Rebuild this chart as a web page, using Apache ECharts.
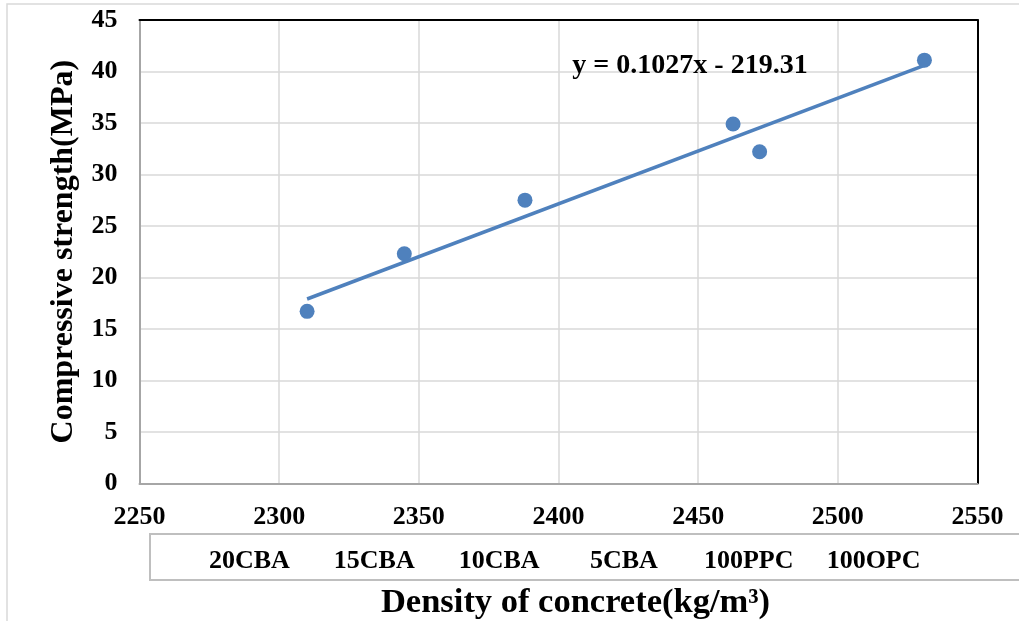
<!DOCTYPE html>
<html>
<head>
<meta charset="utf-8">
<script src="https://cdn.jsdelivr.net/npm/echarts@6/dist/echarts.min.js"></script>
<style>html,body{margin:0;padding:0;background:#fff;}#c{width:1019px;height:621px;}</style>
</head>
<body>
<div id="c"></div>
<script>
// Data
const mixNames = ['20CBA', '15CBA', '10CBA', '5CBA', '100PPC', '100OPC'];
const density = [2310, 2344.8, 2388, 2472, 2462.5, 2531];
const strength = [16.7, 22.3, 27.5, 32.2, 34.9, 41.1];
const trendX = [2310, 2531];
const trendY = [17.9, 40.6];
const equationText = 'y = 0.1027x - 219.31';
const xTitle = 'Density of concrete(kg/m³)';
const yTitle = 'Compressive strength(MPa)';

const FONT = '"Liberation Serif", "Times New Roman", serif';
const points = density.map((d, i) => [d, strength[i]]);
const trend = trendX.map((x, i) => [x, trendY[i]]);

const chart = echarts.init(document.getElementById('c'), null, {renderer: 'canvas'});
chart.setOption({
  animation: false,
  backgroundColor: '#ffffff',
  grid: [
    {left: 139.5, right: 41.5, top: 20, bottom: 137.7},
    {left: 187, right: 83, top: 534, height: 46}
  ],
  xAxis: [
    {
      type: 'value', gridIndex: 0, min: 2250, max: 2550, interval: 50,
      axisLine: {show: true, onZero: false, lineStyle: {color: '#a6a6a6', width: 2}},
      axisTick: {show: false},
      axisLabel: {margin: 21, fontFamily: FONT, fontWeight: 'bold', fontSize: 26, color: '#000', formatter: v => String(v)},
      splitLine: {show: true, lineStyle: {color: '#d9d9d9', width: 1.5}}
    },
    {
      type: 'value', gridIndex: 0, position: 'top', min: 2250, max: 2550,
      axisLine: {show: true, onZero: false, lineStyle: {color: '#000', width: 2}},
      axisTick: {show: false}, axisLabel: {show: false}, splitLine: {show: false}
    },
    {
      type: 'category', gridIndex: 1, data: mixNames, boundaryGap: true,
      axisLine: {show: false}, axisTick: {show: false},
      axisLabel: {inside: true, margin: 19, verticalAlign: 'middle', fontFamily: FONT, fontWeight: 'bold', fontSize: 26, color: '#000'},
      splitLine: {show: false}
    }
  ],
  yAxis: [
    {
      type: 'value', gridIndex: 0, min: 0, max: 45, interval: 5,
      name: yTitle, nameLocation: 'middle', nameGap: 60, nameRotate: 90,
      nameTextStyle: {fontFamily: FONT, fontWeight: 'bold', fontSize: 32, color: '#000'},
      axisLine: {show: true, onZero: false, lineStyle: {color: '#a6a6a6', width: 2}},
      axisTick: {show: false},
      axisLabel: {margin: 22, fontFamily: FONT, fontWeight: 'bold', fontSize: 26, color: '#000'},
      splitLine: {show: true, lineStyle: {color: '#d9d9d9', width: 1.5}}
    },
    {
      type: 'value', gridIndex: 0, position: 'right', min: 0, max: 45,
      axisLine: {show: true, onZero: false, lineStyle: {color: '#000', width: 2}},
      axisTick: {show: false}, axisLabel: {show: false}, splitLine: {show: false}
    },
    {
      type: 'value', gridIndex: 1, show: false
    }
  ],
  graphic: [
    {type: 'rect', z: -1, shape: {x: 7, y: 4, width: 1040, height: 640}, style: {fill: 'none', stroke: '#d9d9d9', lineWidth: 1.5}},
    {type: 'rect', z: -1, shape: {x: 150, y: 534, width: 900, height: 46}, style: {fill: 'none', stroke: '#bfbfbf', lineWidth: 2}},
    {type: 'text', x: 575.5, y: 603, style: {text: xTitle, textAlign: 'center', textVerticalAlign: 'middle', font: 'bold 34.5px ' + FONT, fill: '#000'}},
    {type: 'text', x: 690, y: 66, z: 10, style: {text: equationText, textAlign: 'center', textVerticalAlign: 'middle', font: 'bold 28px ' + FONT, fill: '#000'}}
  ],
  series: [
    {
      type: 'line', xAxisIndex: 0, yAxisIndex: 0, data: trend,
      showSymbol: false, symbol: 'none',
      lineStyle: {color: '#4f81bd', width: 3.5}, z: 2
    },
    {
      type: 'scatter', xAxisIndex: 0, yAxisIndex: 0, data: points,
      symbol: 'circle', symbolSize: 15,
      itemStyle: {color: '#4f81bd', opacity: 1}, z: 3
    }
  ]
});
</script>
</body>
</html>
